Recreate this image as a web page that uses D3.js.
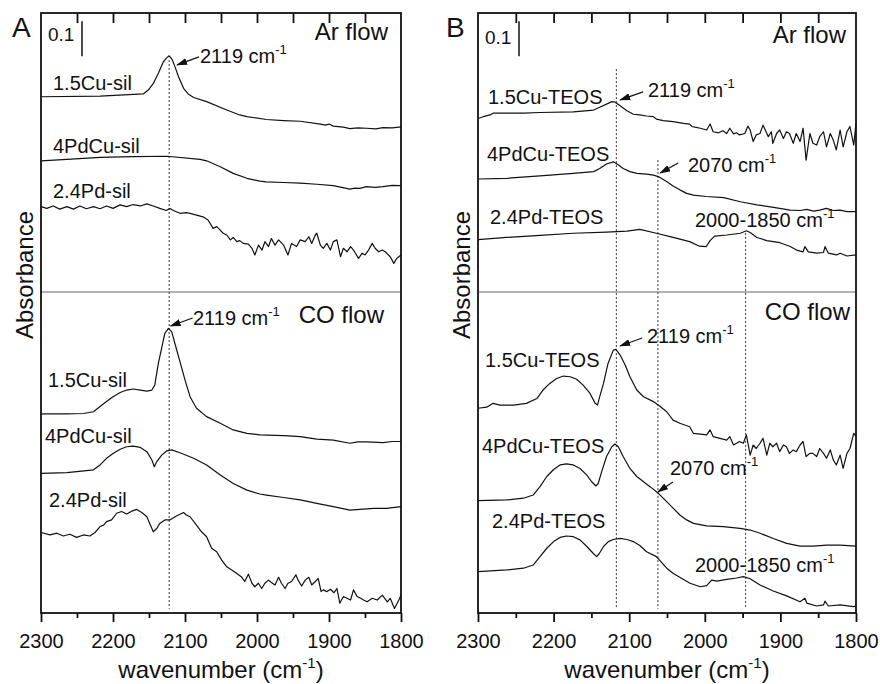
<!DOCTYPE html>
<html>
<head>
<meta charset="utf-8">
<script src="https://cdn.jsdelivr.net/npm/d3@7/dist/d3.min.js"></script>
<style>
  body { margin: 0; background: #fff; }
  svg { display: block; font-family: "Liberation Sans", Arial, sans-serif; }
</style>
</head>
<body>
<div id="chart"></div>
<script>
// axis ticks (wavenumber, cm-1)
const xTicks = [2300, 2200, 2100, 2000, 1900, 1800];
const xMinorTicks = [2250, 2150, 2050, 1950, 1850];
const topTicks = [2250, 2200, 2150, 2100, 2050, 2000, 1950, 1900, 1850];

// ---- panel A, Ar flow: [wavenumber, absorbance]
const cuSilAr = [[2300,1.475],[2218,1.477],[2158,1.483],[2151,1.494],[2144,1.513],[2137,1.542],[2130,1.575],[2125.5,1.586],[2122,1.592],[2118,1.582],[2114,1.561],[2109,1.532],[2102,1.499],[2095,1.482],[2088,1.473],[2070,1.461],[2042,1.437],[2024,1.423],[2014,1.418],[1987,1.410],[1963,1.407],[1940,1.405],[1912,1.397],[1905,1.394],[1900,1.397],[1894,1.391],[1880,1.388],[1871,1.384],[1860,1.386],[1848,1.385],[1835,1.383],[1825,1.387],[1812,1.386],[1800,1.389]];
const pdCuSilAr = [[2300,1.292],[2264,1.296],[2218,1.302],[2172,1.304],[2125,1.305],[2079,1.296],[2070,1.292],[2051,1.275],[2033,1.256],[2014,1.242],[1996,1.234],[1987,1.232],[1963,1.230],[1940,1.228],[1917,1.225],[1894,1.221],[1871,1.211],[1864,1.214],[1857,1.213],[1848,1.218],[1836,1.216],[1825,1.218],[1812,1.222],[1800,1.221]];
const pdSilAr = [[2300,1.161],[2292,1.156],[2283,1.163],[2274,1.154],[2264,1.161],[2255,1.154],[2246,1.163],[2237,1.155],[2227,1.161],[2218,1.155],[2209,1.163],[2200,1.156],[2190,1.166],[2181,1.161],[2172,1.167],[2162,1.163],[2153,1.169],[2144,1.163],[2135,1.156],[2126,1.150],[2121,1.156],[2116,1.150],[2107,1.142],[2098,1.144],[2093,1.142],[2084,1.137],[2075,1.132],[2068,1.123],[2061,1.099],[2056,1.104],[2051,1.094],[2047,1.085],[2042,1.080],[2037,1.066],[2033,1.073],[2028,1.061],[2024,1.064],[2019,1.056],[2012,1.054],[2007,1.042],[2003,1.023],[1998,1.051],[1993,1.037],[1989,1.061],[1984,1.047],[1980,1.070],[1975,1.051],[1970,1.066],[1963,1.051],[1957,1.023],[1952,1.056],[1945,1.047],[1940,1.066],[1933,1.061],[1928,1.075],[1924,1.056],[1919,1.080],[1917,1.085],[1912,1.051],[1908,1.042],[1903,1.056],[1898,1.037],[1894,1.061],[1889,1.066],[1884,1.018],[1880,1.042],[1875,1.032],[1870,1.047],[1866,1.037],[1859,1.013],[1854,1.028],[1850,1.023],[1845,1.037],[1840,1.056],[1836,1.042],[1831,1.032],[1826,1.037],[1822,1.032],[1815,1.018],[1810,0.999],[1806,1.013],[1800,1.023]];

// ---- panel A, CO flow
const cuSilCO = [[2300,0.569],[2264,0.569],[2241,0.570],[2227,0.575],[2218,0.590],[2209,0.604],[2200,0.618],[2190,0.630],[2181,0.637],[2172,0.640],[2162,0.637],[2153,0.634],[2146,0.637],[2142,0.651],[2137,0.713],[2132,0.761],[2128,0.799],[2123,0.813],[2118.5,0.804],[2114,0.770],[2107,0.718],[2100,0.666],[2093,0.618],[2084,0.585],[2070,0.561],[2051,0.542],[2033,0.523],[2014,0.513],[1996,0.509],[1963,0.507],[1940,0.504],[1917,0.497],[1894,0.494],[1871,0.485],[1860,0.489],[1848,0.489],[1825,0.487],[1812,0.490],[1800,0.490]];
const pdCuSilCO = [[2300,0.399],[2264,0.401],[2227,0.409],[2218,0.423],[2209,0.442],[2200,0.456],[2190,0.468],[2181,0.475],[2172,0.477],[2162,0.473],[2153,0.461],[2146,0.437],[2142.6,0.418],[2139.4,0.432],[2132.4,0.451],[2125.5,0.463],[2118.5,0.466],[2107,0.458],[2088,0.442],[2070,0.423],[2051,0.394],[2033,0.370],[2014,0.351],[1996,0.340],[1987,0.337],[1963,0.330],[1940,0.323],[1917,0.313],[1894,0.304],[1871,0.294],[1857,0.296],[1838,0.299],[1820,0.299],[1800,0.304]];
const pdSilCO = [[2300,0.230],[2287.5,0.223],[2278,0.228],[2269,0.220],[2260,0.225],[2250.5,0.216],[2241,0.223],[2232,0.220],[2225,0.230],[2218,0.247],[2213,0.251],[2209,0.261],[2202,0.266],[2195,0.285],[2188,0.290],[2181,0.283],[2174,0.291],[2167,0.296],[2160,0.287],[2153,0.275],[2149,0.256],[2144,0.232],[2139,0.242],[2135,0.256],[2128,0.266],[2121,0.266],[2112,0.277],[2102,0.287],[2098,0.280],[2093,0.275],[2084,0.251],[2077,0.232],[2070,0.218],[2063,0.185],[2056,0.175],[2049,0.151],[2042,0.132],[2035,0.123],[2028,0.113],[2021,0.102],[2017,0.090],[2012,0.111],[2007,0.085],[2003,0.075],[1998,0.085],[1993.5,0.070],[1989,0.085],[1984,0.094],[1980,0.087],[1975,0.080],[1970,0.102],[1966,0.085],[1961,0.070],[1957,0.085],[1952,0.090],[1946,0.109],[1943,0.094],[1938,0.077],[1933,0.094],[1928,0.102],[1924,0.080],[1919,0.090],[1915,0.099],[1911,0.061],[1908,0.066],[1903,0.061],[1898,0.068],[1893,0.058],[1889,0.070],[1885,0.028],[1880,0.047],[1875,0.042],[1870,0.037],[1866,0.066],[1861,0.047],[1856,0.042],[1852,0.037],[1847,0.032],[1840,0.042],[1833,0.037],[1826,0.051],[1819,0.032],[1815,0.042],[1809,0.013],[1803,0.037],[1800,0.051]];

// ---- panel B, Ar flow
const cuTeosAr = [[2300,1.413],[2293,1.418],[2284,1.423],[2280,1.428],[2240,1.428],[2218,1.430],[2174,1.432],[2147,1.437],[2139,1.445],[2130,1.454],[2123,1.461],[2119,1.460],[2112,1.449],[2103,1.435],[2094.5,1.425],[2086,1.423],[2077,1.420],[2068,1.418],[2064,1.411],[2055,1.407],[2042,1.404],[2028,1.399],[2020,1.397],[2017,1.390],[2013,1.388],[2006,1.385],[1997.5,1.380],[1993,1.397],[1989,1.375],[1982,1.372],[1976,1.378],[1971,1.370],[1967,1.385],[1962,1.369],[1958,1.372],[1954,1.366],[1947,1.370],[1943,1.391],[1940,1.380],[1936,1.347],[1932,1.366],[1927,1.370],[1923,1.394],[1919,1.375],[1916,1.361],[1912,1.375],[1910,1.342],[1905,1.370],[1901,1.380],[1896,1.356],[1892,1.375],[1888,1.370],[1883,1.342],[1879,1.370],[1874,1.347],[1870,1.385],[1866,1.294],[1861,1.370],[1857,1.342],[1852,1.337],[1848,1.361],[1843,1.375],[1839,1.332],[1834,1.370],[1830,1.351],[1826,1.323],[1821,1.380],[1817,1.332],[1812,1.375],[1808,1.390],[1803,1.337],[1800,1.399]];
const pdCuTeosAr = [[2300,1.240],[2262,1.242],[2218,1.249],[2174,1.256],[2147,1.261],[2139,1.270],[2130,1.283],[2121,1.289],[2114,1.280],[2108,1.270],[2099,1.261],[2090,1.256],[2077,1.254],[2068,1.251],[2061.5,1.247],[2050,1.232],[2042,1.220],[2033,1.209],[2024,1.199],[2015,1.194],[1998,1.190],[1975,1.187],[1953,1.175],[1931,1.166],[1909,1.159],[1887,1.151],[1874,1.150],[1865,1.153],[1856,1.148],[1848,1.151],[1839,1.156],[1830,1.150],[1821,1.151],[1812,1.147],[1800,1.147]];
const pdTeosAr = [[2300,1.067],[2262,1.073],[2218,1.079],[2174,1.085],[2130,1.088],[2103,1.091],[2086,1.096],[2064,1.085],[2042,1.073],[2020,1.061],[2007,1.048],[1998,1.047],[1993,1.064],[1987,1.077],[1971,1.080],[1953,1.085],[1945,1.092],[1940,1.087],[1931,1.073],[1918,1.064],[1900.5,1.058],[1887,1.047],[1878.5,1.037],[1870,1.032],[1867.5,1.047],[1863,1.032],[1852,1.028],[1843,1.030],[1841,1.047],[1836.6,1.028],[1825.6,1.023],[1821,1.028],[1812,1.020],[1800,1.023]];

// ---- panel B, CO flow
const cuTeosCO = [[2300,0.585],[2288.5,0.588],[2280,0.599],[2271,0.594],[2253,0.594],[2236,0.599],[2222,0.613],[2214,0.637],[2205,0.656],[2196,0.670],[2187,0.677],[2178,0.675],[2169.5,0.668],[2161,0.651],[2152,0.628],[2145,0.599],[2142,0.594],[2139,0.618],[2134,0.656],[2128,0.713],[2121,0.751],[2117.5,0.753],[2112,0.737],[2105.5,0.709],[2099,0.675],[2090,0.637],[2081,0.618],[2068,0.604],[2059,0.590],[2050.4,0.575],[2042,0.551],[2033,0.542],[2020,0.532],[2015,0.513],[2006,0.511],[1997.5,0.509],[1993,0.523],[1989,0.504],[1980,0.499],[1971,0.494],[1967,0.504],[1962,0.480],[1958,0.485],[1954,0.490],[1949,0.485],[1945,0.509],[1940,0.451],[1936,0.480],[1932,0.470],[1927,0.485],[1923,0.499],[1918,0.451],[1914,0.485],[1910,0.475],[1905,0.485],[1901,0.461],[1896,0.480],[1892,0.475],[1888,0.456],[1883,0.466],[1879,0.461],[1874,0.480],[1870,0.490],[1866,0.447],[1861,0.456],[1857,0.456],[1852,0.447],[1848,0.470],[1843,0.456],[1839,0.442],[1834,0.466],[1830,0.437],[1826,0.423],[1821,0.451],[1817,0.413],[1812,0.456],[1808,0.470],[1803,0.513],[1800,0.505]];
const pdCuTeosCO = [[2300,0.321],[2262,0.323],[2240,0.328],[2227,0.337],[2218,0.361],[2209,0.390],[2200,0.410],[2191.5,0.423],[2183,0.426],[2174,0.423],[2165,0.413],[2156,0.394],[2149.6,0.375],[2144,0.363],[2141,0.370],[2136.4,0.404],[2130,0.447],[2123,0.475],[2119,0.483],[2114.4,0.475],[2108,0.447],[2099,0.413],[2090,0.390],[2081,0.375],[2072.5,0.361],[2061.5,0.342],[2050.4,0.318],[2041.6,0.299],[2033,0.280],[2024,0.266],[2015,0.256],[1997.5,0.249],[1975.5,0.247],[1953.4,0.242],[1940,0.237],[1927,0.228],[1909.4,0.213],[1891.7,0.199],[1874,0.191],[1856.4,0.191],[1838.8,0.194],[1821,0.194],[1800,0.191]];
const pdTeosCO = [[2300,0.118],[2262,0.123],[2240,0.128],[2227,0.137],[2218,0.161],[2209,0.185],[2200,0.204],[2191.5,0.216],[2183,0.220],[2174,0.218],[2165,0.209],[2156,0.190],[2147.4,0.170],[2143,0.161],[2139.5,0.170],[2134,0.190],[2127.6,0.204],[2121,0.210],[2112,0.213],[2103,0.210],[2094.5,0.204],[2086,0.193],[2077,0.175],[2064,0.161],[2050.4,0.128],[2041.6,0.113],[2019.6,0.085],[2006,0.075],[1997.5,0.078],[1991,0.094],[1984,0.091],[1971,0.096],[1958,0.100],[1949,0.104],[1940,0.098],[1927,0.080],[1909.4,0.063],[1891.7,0.049],[1874,0.032],[1867.5,0.042],[1865,0.028],[1852,0.020],[1843,0.023],[1841,0.034],[1836.6,0.020],[1821,0.023],[1803.5,0.018],[1800,0.020]];

// dotted guide lines: wavenumber and top end (absorbance)
const guidesA = [2122];
const guideTopsA = [1.58];
const guidesB = [2117, 2062, 1946];
const guideTopsB = [1.554, 1.294, 1.086];

const W = 880, H = 684;
const plotTop = 13, plotBottom = 613, midY = 292;

const svg = d3.select('#chart').append('svg')
  .attr('width', W)
  .attr('height', H)
  .attr('viewBox', `0 0 ${W} ${H}`);

svg.append('defs').append('marker')
  .attr('id', 'arrow')
  .attr('markerUnits', 'userSpaceOnUse')
  .attr('markerWidth', 11)
  .attr('markerHeight', 7)
  .attr('refX', 10)
  .attr('refY', 3.5)
  .attr('orient', 'auto')
  .append('path')
  .attr('d', 'M0,0 L11,3.5 L0,7 Z')
  .attr('fill', '#111');

function addCm(sel, label, supSize) {
  sel.append('tspan').text(label);
  sel.append('tspan').attr('font-size', supSize).attr('dy', -9).text('-1');
}

function drawPanel(p) {
  const x = d3.scaleLinear().domain([2300, 1800]).range([p.left, p.right]);
  const y = d3.scaleLinear().domain([0, 600 / 350]).range([plotBottom, plotTop]);
  const g = svg.append('g');

  // separator between Ar and CO spectra
  g.append('line')
    .attr('x1', p.left).attr('x2', p.right)
    .attr('y1', midY).attr('y2', midY)
    .attr('stroke', '#666').attr('stroke-width', 1.2);

  // dotted guides
  g.selectAll('.guide')
    .data(p.guides)
    .join('line')
    .attr('class', 'guide')
    .attr('x1', d => x(d)).attr('x2', d => x(d))
    .attr('y1', (d, i) => y(p.guideTops[i]))
    .attr('y2', y(0.012))
    .attr('stroke', '#333')
    .attr('stroke-width', 1)
    .attr('stroke-dasharray', '2,2');

  const line = d3.line()
    .x(d => x(d[0]))
    .y(d => y(d[1]));

  g.selectAll('.spec')
    .data(p.spectra)
    .join('path')
    .attr('class', 'spec')
    .attr('d', d => line(d.values))
    .attr('fill', 'none')
    .attr('stroke', '#111')
    .attr('stroke-width', 1.2)
    .attr('stroke-linejoin', 'round');

  g.selectAll('.spec-label')
    .data(p.spectra)
    .join('text')
    .attr('class', 'spec-label')
    .attr('x', d => d.lx)
    .attr('y', d => d.ly)
    .attr('font-size', 20)
    .attr('fill', '#111')
    .text(d => d.name);

  // arrows pointing to bands
  p.notes.forEach(n => {
    if (n.tip) {
      const tx = x(n.tip[0]), ty = y(n.tip[1]);
      g.append('line')
        .attr('x1', tx + n.tail[0]).attr('y1', ty + n.tail[1])
        .attr('x2', tx).attr('y2', ty)
        .attr('stroke', '#111').attr('stroke-width', 1.2)
        .attr('marker-end', 'url(#arrow)');
    }
    const t = g.append('text')
      .attr('x', n.tx).attr('y', n.ty)
      .attr('font-size', 20).attr('fill', '#111');
    addCm(t, n.text + ' cm', 13);
  });

  // frame
  g.append('rect')
    .attr('x', p.left).attr('y', plotTop)
    .attr('width', p.right - p.left).attr('height', plotBottom - plotTop)
    .attr('fill', 'none').attr('stroke', '#111').attr('stroke-width', 1.8);

  // bottom axis, ticks out
  const ax = g.append('g')
    .attr('transform', `translate(0,${plotBottom})`)
    .call(d3.axisBottom(x).tickValues(xTicks).tickSizeInner(9).tickSizeOuter(0).tickPadding(12).tickFormat(d3.format('d')));
  ax.select('.domain').remove();
  ax.selectAll('line').attr('stroke', '#111').attr('stroke-width', 1.8);
  ax.selectAll('text').attr('font-size', 20).attr('fill', '#111');
  ax.attr('font-family', null);

  const axm = g.append('g')
    .attr('transform', `translate(0,${plotBottom})`)
    .call(d3.axisBottom(x).tickValues(xMinorTicks).tickSize(5).tickFormat(''));
  axm.select('.domain').remove();
  axm.selectAll('line').attr('stroke', '#111').attr('stroke-width', 1.8);

  // top axis, ticks in
  const axt = g.append('g')
    .attr('transform', `translate(0,${plotTop})`)
    .call(d3.axisBottom(x).tickValues(topTicks).tickSize(10).tickFormat(''));
  axt.select('.domain').remove();
  axt.selectAll('line').attr('stroke', '#111').attr('stroke-width', 1.8);

  // 0.1 absorbance scale bar
  g.append('line')
    .attr('x1', p.barX).attr('x2', p.barX)
    .attr('y1', y(1.691)).attr('y2', y(1.591))
    .attr('stroke', '#111').attr('stroke-width', 1.5);
  g.append('text')
    .attr('x', p.barX - 34).attr('y', p.barTextY)
    .attr('font-size', 19).attr('fill', '#111')
    .text('0.1');

  // panel letter
  g.append('text')
    .attr('x', p.letterX).attr('y', 37)
    .attr('font-size', 28).attr('fill', '#111')
    .text(p.letter);

  g.append('text')
    .attr('x', p.arX).attr('y', p.arY)
    .attr('text-anchor', 'end').attr('font-size', 24).attr('fill', '#111')
    .text('Ar flow');
  g.append('text')
    .attr('x', p.coX).attr('y', p.coY)
    .attr('text-anchor', 'end').attr('font-size', 24).attr('fill', '#111')
    .text('CO flow');

  g.append('text')
    .attr('transform', `translate(${p.left - 8},275) rotate(-90)`)
    .attr('text-anchor', 'middle').attr('font-size', 24).attr('fill', '#111')
    .text('Absorbance');

  const xt = g.append('text')
    .attr('x', (p.left + p.right) / 2).attr('y', 678)
    .attr('text-anchor', 'middle').attr('font-size', 24).attr('fill', '#111');
  xt.append('tspan').text('wavenumber (cm');
  xt.append('tspan').attr('font-size', 15).attr('dy', -10).text('-1');
  xt.append('tspan').attr('dy', 10).text(')');
}

drawPanel({
  letter: 'A', letterX: 12, left: 41, right: 401,
  barX: 82, barTextY: 41,
  arX: 388, arY: 40, coX: 384, coY: 323,
  guides: guidesA, guideTops: guideTopsA,
  spectra: [
    { name: '1.5Cu-sil', values: cuSilAr, lx: 53, ly: 90 },
    { name: '4PdCu-sil', values: pdCuSilAr, lx: 53, ly: 153 },
    { name: '2.4Pd-sil', values: pdSilAr, lx: 53, ly: 198 },
    { name: '1.5Cu-sil', values: cuSilCO, lx: 48, ly: 387 },
    { name: '4PdCu-sil', values: pdCuSilCO, lx: 45, ly: 443 },
    { name: '2.4Pd-sil', values: pdSilCO, lx: 49, ly: 507 }
  ],
  notes: [
    { text: '2119', tip: [2111, 1.566], tail: [22, -8], tx: 200, ty: 63 },
    { text: '2119', tip: [2120, 0.820], tail: [22, -8], tx: 193, ty: 325 }
  ]
});

drawPanel({
  letter: 'B', letterX: 446, left: 478, right: 856,
  barX: 519, barTextY: 44,
  arX: 846, arY: 43, coX: 850, coY: 320,
  guides: guidesB, guideTops: guideTopsB,
  spectra: [
    { name: '1.5Cu-TEOS', values: cuTeosAr, lx: 488, ly: 104 },
    { name: '4PdCu-TEOS', values: pdCuTeosAr, lx: 487, ly: 161 },
    { name: '2.4Pd-TEOS', values: pdTeosAr, lx: 490, ly: 224 },
    { name: '1.5Cu-TEOS', values: cuTeosCO, lx: 485, ly: 367 },
    { name: '4PdCu-TEOS', values: pdCuTeosCO, lx: 482, ly: 453 },
    { name: '2.4Pd-TEOS', values: pdTeosCO, lx: 492, ly: 528 }
  ],
  notes: [
    { text: '2119', tip: [2112, 1.466], tail: [23, -8], tx: 648, ty: 97 },
    { text: '2070', tip: [2059, 1.257], tail: [18, -10], tx: 688, ty: 172 },
    { text: '2000-1850', tx: 695, ty: 227 },
    { text: '2119', tip: [2112, 0.763], tail: [22, -8], tx: 647, ty: 343 },
    { text: '2070', tip: [2062, 0.346], tail: [15, -10], tx: 670, ty: 475 },
    { text: '2000-1850', tx: 695, ty: 572 }
  ]
});
</script>
</body>
</html>
